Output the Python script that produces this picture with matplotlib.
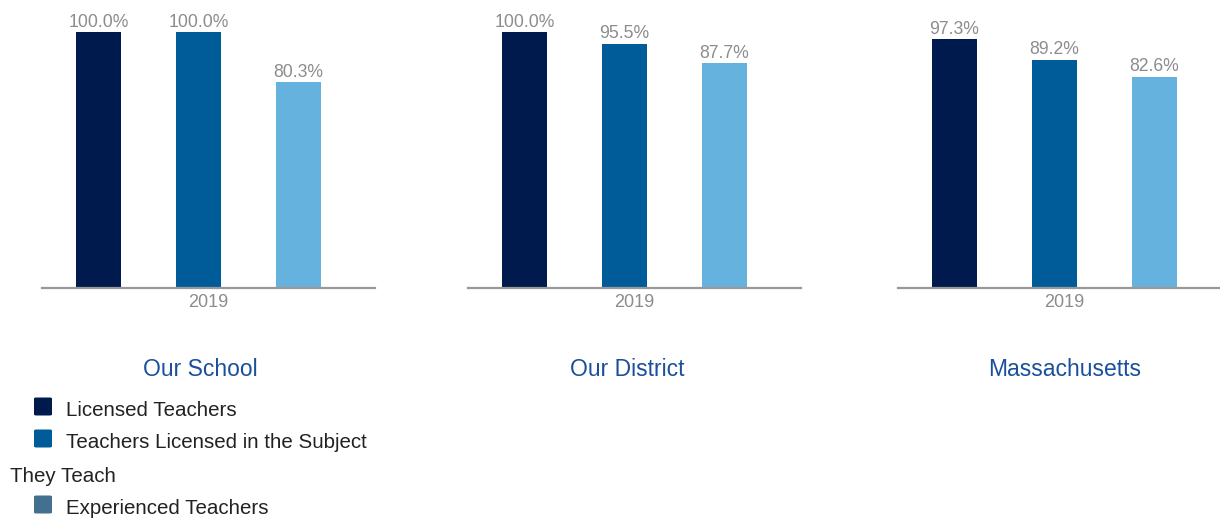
import matplotlib
matplotlib.use("Agg")
import matplotlib.pyplot as plt
from matplotlib.patches import FancyBboxPatch

plt.rcParams['font.family'] = ['Liberation Sans', 'DejaVu Sans']

panels = ["Our School", "Our District", "Massachusetts"]
year_label = "2019"
series_names = ["Licensed Teachers", "Teachers Licensed in the Subject", "Experienced Teachers"]
licensed = [100.0, 100.0, 97.3]
licensed_subject = [100.0, 95.5, 89.2]
experienced = [80.3, 87.7, 82.6]

bar_colors = ["#001a4d", "#005b99", "#66b2df"]
legend_colors = ["#001a4d", "#005b99", "#43708f"]

W, H = 1220, 519
fig = plt.figure(figsize=(W / 100, H / 100), dpi=100)

ax_lefts = [42, 468, 898]
ax_w = 333
base_y = 288
top_y = 32

for i, name in enumerate(panels):
    ax = fig.add_axes([ax_lefts[i] / W, (H - base_y) / H, ax_w / W, (base_y - top_y) / H])
    vals = [licensed[i], licensed_subject[i], experienced[i]]
    xs = [0, 1, 2]
    bars = ax.bar(xs, vals, width=0.45, color=bar_colors, edgecolor='none')
    for b, v in zip(bars, vals):
        ax.annotate(f"{v:.1f}%", (b.get_x() + b.get_width() / 2, v),
                    xytext=(0, 1.0), textcoords='offset points',
                    ha='center', va='bottom', fontsize=12.7, color='#8c8c8c',
                    annotation_clip=False)
    left = -0.565
    ax.set_xlim(left, left + 3.33)
    ax.set_ylim(0, 100)
    ax.set_xticks([left + 3.33 / 2])
    ax.set_xticklabels([year_label], fontsize=13, color='#8c8c8c')
    ax.tick_params(axis='x', length=0, pad=4)
    ax.set_yticks([])
    for s in ['top', 'right', 'left']:
        ax.spines[s].set_visible(False)
    ax.spines['bottom'].set_color('#999999')
    ax.spines['bottom'].set_linewidth(1.6)
    ax.patch.set_alpha(0)

title_x = [200, 627, 1065]
for i, name in enumerate(panels):
    fig.text(title_x[i] / W, (H - 370) / H, name, ha='center', va='center',
             fontsize=16.5, color='#1a4f9c')

# legend
rows = [(410, 0, series_names[0]), (442, 1, "Teachers Licensed in the Subject"),
        (508, 2, series_names[2])]
for y, ci, label in rows:
    sq = FancyBboxPatch((34 / W, (H - y - 5.5) / H), 18 / W, 18 / H,
                        boxstyle="round,pad=0,rounding_size=0.002",
                        transform=fig.transFigure, facecolor=legend_colors[ci],
                        edgecolor='none')
    fig.patches.append(sq)
    fig.text(66 / W, (H - y - 1) / H, label, ha='left', va='center', fontsize=14.8, color='#222222')
fig.text(10 / W, (H - 476) / H, "They Teach", ha='left', va='center', fontsize=14.8, color='#222222')

fig.savefig("out.png", dpi=100)
